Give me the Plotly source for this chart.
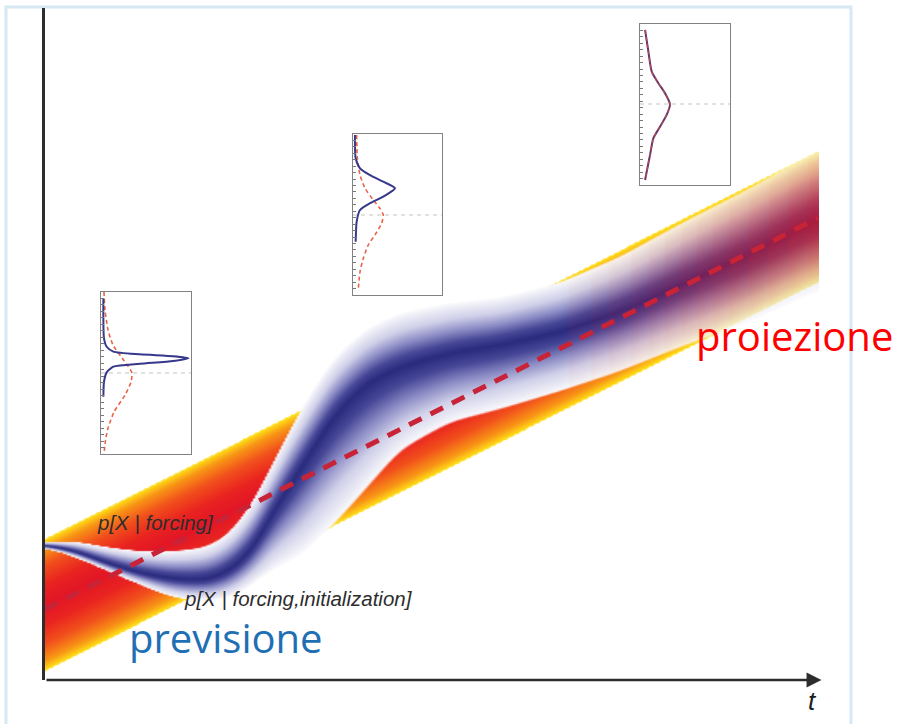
import numpy as np
import plotly.graph_objects as go

# ---------------- data (chart units: t = time, X = variable) ----------------
# p[X | forcing]  : straight band (centre and half width at the two ends)
red_t = [0, 773]
red_center = [75, 463]
red_halfwidth = [66, 65.5]

# p[X | forcing, initialization] : curved band
blue_t = [0, 30, 62, 95, 128, 162, 185, 208, 228, 255, 288, 322, 355, 405, 455, 515, 575, 635, 705, 773]
blue_center = [135, 129, 117, 107, 101, 100, 109, 130, 168, 210, 263, 297, 313, 327, 335, 348, 368, 395, 425, 460]
blue_up = [3, 10, 16, 22, 28, 33, 38, 48, 50, 60, 60, 56, 55, 51, 48, 50, 56, 62, 68, 72]
blue_down = [3, 6, 8, 12, 19, 22, 28, 35, 58, 88, 110, 106, 84, 70, 65, 60, 60, 63, 68, 72]
blue_fade_t = [0, 515, 595, 675, 773]
blue_fade = [1, 1, 0.8, 0.55, 0.3]

# dashed mean of the forced band
forcing_line_t = [0, 773]
forcing_line_x = [71, 462]

# insets (density on x, variable on y; 0-100 units inside each box)
ins1_blue_y = [96.1, 71.4, 66.2, 63.2, 61.5, 60.3, 59.1, 57.4, 55.7, 53.9, 50.4, 44.6, 35.4]
ins1_blue_x = [2.6, 3.3, 6.3, 13.7, 43.3, 80.3, 97.0, 80.3, 43.3, 13.7, 6.3, 3.3, 2.6]
ins1_red_y = [100, 88.9, 76.5, 67.3, 59.3, 54.3, 50, 44.4, 36.4, 25.9, 16.0, 8.6, 0]
ins1_red_x = [3.3, 4.4, 7.8, 13.3, 23.3, 30, 34.4, 33.3, 26.7, 14.4, 7.8, 5, 3.3]
ins1_mean = 50

ins2_blue_y = [99.4, 84.9, 78.7, 74.5, 70.4, 66.3, 61.1, 57, 52.8, 45.5, 33.1]
ins2_blue_x = [2.2, 3, 7.9, 19.1, 34, 47.2, 34, 19.1, 7.9, 4.1, 3]
ins2_red_y = [99.4, 84.9, 74.5, 66.3, 59, 53.8, 49.7, 44.5, 37.3, 31.1, 22.8, 14.5, 4.1]
ins2_red_x = [4.1, 4.9, 7.9, 13.5, 22.8, 30.3, 34, 32.2, 24.7, 17.2, 11.6, 7.9, 6]
ins2_mean = 49.7

ins3_y = [96.3, 82.8, 70.4, 63.2, 57, 50.1, 43.5, 36.2, 29, 18.6, 3.1]
ins3_x = [5.6, 9.3, 13, 20.4, 27.8, 33.3, 29.6, 22.2, 14.8, 11.1, 5.6]
ins3_mean = 50.3

# ---------------- gradient fields ----------------
gx = np.arange(1, 774, 2.0)
gy = np.arange(0.75, 546, 1.5)
YY = gy[:, None]


def smooth_interp(xs, xp, fp, sigma=10.0):
    y = np.interp(xs, xp, fp)
    step = xs[1] - xs[0]
    half = int(round(3 * sigma / step))
    k = np.arange(-half, half + 1) * step
    w = np.exp(-0.5 * (k / sigma) ** 2)
    w /= w.sum()
    yp = np.pad(y, half, mode="edge")
    return np.convolve(yp, w, mode="valid")


rc = np.interp(gx, red_t, red_center)
rh = np.interp(gx, red_t, red_halfwidth)
s_red = np.abs(YY - rc[None, :]) / rh[None, :]
z_red = np.where(s_red <= 1, s_red, np.nan).astype(np.float32)

bc = smooth_interp(gx, blue_t, blue_center)
bu = smooth_interp(gx, blue_t, blue_up)
bd = smooth_interp(gx, blue_t, blue_down)
dy = YY - bc[None, :]
wid = np.where(dy >= 0, bu[None, :], bd[None, :])
s_blue = np.abs(dy) / wid
L = 16
fade = np.interp(gx, blue_fade_t, blue_fade)
lev = np.round((fade - 0.25) / 0.75 * (L - 1))
z_blue = np.where(s_blue <= 1, lev[None, :] + 0.98 * (1 - s_blue), np.nan).astype(np.float32)

red_cs = [[0, "rgb(226,22,38)"], [0.3, "rgb(233,36,32)"], [0.6, "rgb(242,80,28)"],
          [0.85, "rgb(248,150,22)"], [1, "rgb(255,226,22)"]]

blue_base = [(0.0, (255, 255, 255), 0.0), (0.03, (248, 248, 252), 1.0), (0.33, (208, 208, 233), 1.0),
             (0.58, (140, 140, 198), 1.0), (0.8, (72, 72, 152), 1.0), (1.0, (42, 42, 126), 1.0)]
blue_cs = []
for k in range(L):
    a_k = 0.25 + 0.75 * k / (L - 1)
    for v, c, a in blue_base:
        alpha = a * (a_k + (1 - a_k) * 0.5 * (1 - v))
        blue_cs.append([(k + 0.98 * v) / L, "rgba(%d,%d,%d,%.3f)" % (c[0], c[1], c[2], alpha)])
blue_cs.append([1.0, blue_cs[-1][1]])

fig = go.Figure()
fig.add_trace(go.Heatmap(x=gx, y=gy, z=z_red, colorscale=red_cs, zmin=0, zmax=1, showscale=False,
                         zsmooth="fast", hoverinfo="skip"))
fig.add_trace(go.Heatmap(x=gx, y=gy, z=z_blue, colorscale=blue_cs, zmin=0, zmax=L, showscale=False,
                         zsmooth="fast", hoverinfo="skip"))
fig.add_trace(go.Scatter(x=forcing_line_t, y=forcing_line_x, mode="lines", hoverinfo="skip",
                         line=dict(color="rgb(200,35,55)", width=5, dash="14px,10px")))

# ---------------- insets ----------------
BLUE = "rgb(55,55,140)"
RED = "rgb(232,100,70)"
insets = [
    ("x2", "y2", ins1_blue_x, ins1_blue_y, ins1_red_x, ins1_red_y, ins1_mean),
    ("x3", "y3", ins2_blue_x, ins2_blue_y, ins2_red_x, ins2_red_y, ins2_mean),
]
for xa, ya, bx, by, rx, ry, mu in insets:
    fig.add_trace(go.Scatter(x=[0, 100], y=[mu, mu], xaxis=xa, yaxis=ya, mode="lines", hoverinfo="skip",
                             line=dict(color="rgb(195,195,195)", width=1, dash="4px,4px")))
    fig.add_trace(go.Scatter(x=rx, y=ry, xaxis=xa, yaxis=ya, mode="lines", hoverinfo="skip",
                             line=dict(color=RED, width=1.6, dash="4px,3px", shape="spline", smoothing=0.6)))
    fig.add_trace(go.Scatter(x=bx, y=by, xaxis=xa, yaxis=ya, mode="lines", hoverinfo="skip",
                             line=dict(color=BLUE, width=2, shape="spline", smoothing=0.6)))
fig.add_trace(go.Scatter(x=[0, 100], y=[ins3_mean, ins3_mean], xaxis="x4", yaxis="y4", mode="lines",
                         hoverinfo="skip", line=dict(color="rgb(195,195,195)", width=1, dash="4px,4px")))
fig.add_trace(go.Scatter(x=ins3_x, y=ins3_y, xaxis="x4", yaxis="y4", mode="lines", hoverinfo="skip",
                         line=dict(color="rgb(100,55,105)", width=2, shape="spline", smoothing=0.6)))
fig.add_trace(go.Scatter(x=ins3_x, y=ins3_y, xaxis="x4", yaxis="y4", mode="lines", hoverinfo="skip",
                         line=dict(color="rgba(215,85,85,0.6)", width=1.4, dash="4px,3px",
                                   shape="spline", smoothing=0.6)))

hidden = dict(showgrid=False, zeroline=False, showticklabels=False, ticks="")


def inset_axes(xdom, ydom, anchor_x, anchor_y):
    xa = dict(domain=xdom, anchor=anchor_y, range=[0, 100], showline=True, mirror=True,
              linecolor="rgb(130,130,130)", linewidth=1.2, **hidden)
    ya = dict(domain=ydom, anchor=anchor_x, range=[0, 100], showline=True, mirror=True,
              linecolor="rgb(130,130,130)", linewidth=1.2, showgrid=False, zeroline=False,
              showticklabels=False, ticks="inside", ticklen=3, tickwidth=1,
              tickcolor="rgb(120,120,120)", dtick=4, tick0=0)
    return xa, ya


x2, y2 = inset_axes([0.0721, 0.1879], [0.3363, 0.5774], "x2", "y2")
x3, y3 = inset_axes([0.3964, 0.5109], [0.5729, 0.8125], "x3", "y3")
x4, y4 = inset_axes([0.7658, 0.8816], [0.7366, 0.9762], "x4", "y4")

txt_font = dict(family="Liberation Sans, Arial", size=20.5, color="rgb(45,45,45)", style="italic")

fig.update_layout(
    width=901, height=724,
    margin=dict(l=45, r=79, t=8, b=44),
    paper_bgcolor="white", plot_bgcolor="rgba(0,0,0,0)",
    showlegend=False,
    xaxis=dict(range=[0, 777], showline=False, **hidden),
    yaxis=dict(range=[0, 672], showline=True, linecolor="rgb(45,45,45)", linewidth=3, **hidden),
    xaxis2=x2, yaxis2=y2, xaxis3=x3, yaxis3=y3, xaxis4=x4, yaxis4=y4,
    shapes=[dict(type="rect", xref="paper", yref="paper", x0=-0.0502, x1=1.0373, y0=-0.12, y1=1.0015,
                 line=dict(color="rgb(214,232,243)", width=3), layer="below")],
    annotations=[
        dict(x=776.5, y=0, ax=0, ay=0, xref="x", yref="y", axref="x", ayref="y", text="",
             showarrow=True, arrowhead=2, arrowsize=1.15, arrowwidth=2.6, arrowcolor="rgb(45,45,45)",
             standoff=0, startstandoff=0),
        dict(x=767, y=-0.0312, xref="x", yref="paper", text="t", showarrow=False,
             xanchor="center", yanchor="middle",
             font=dict(family="Liberation Sans, Arial", size=26, color="rgb(30,30,30)", style="italic")),
        dict(x=50, y=158, xref="x", yref="y", text="p[X | forcing]", showarrow=False, xanchor="left",
             font=txt_font),
        dict(x=137, y=82, xref="x", yref="y", text="p[X | forcing,initialization]", showarrow=False,
             xanchor="left", font=txt_font),
        dict(x=82, y=43, xref="x", yref="y", text="previsione", showarrow=False, xanchor="left",
             font=dict(family="Open Sans", size=40, color="rgb(31,111,181)")),
        dict(x=649, y=345, xref="x", yref="y", text="proiezione", showarrow=False, xanchor="left",
             font=dict(family="Open Sans", size=40, color="rgb(255,0,0)")),
    ],
)

fig.write_html("out.html", post_script="document.body.style.margin='0';",
               config={"displayModeBar": False})
